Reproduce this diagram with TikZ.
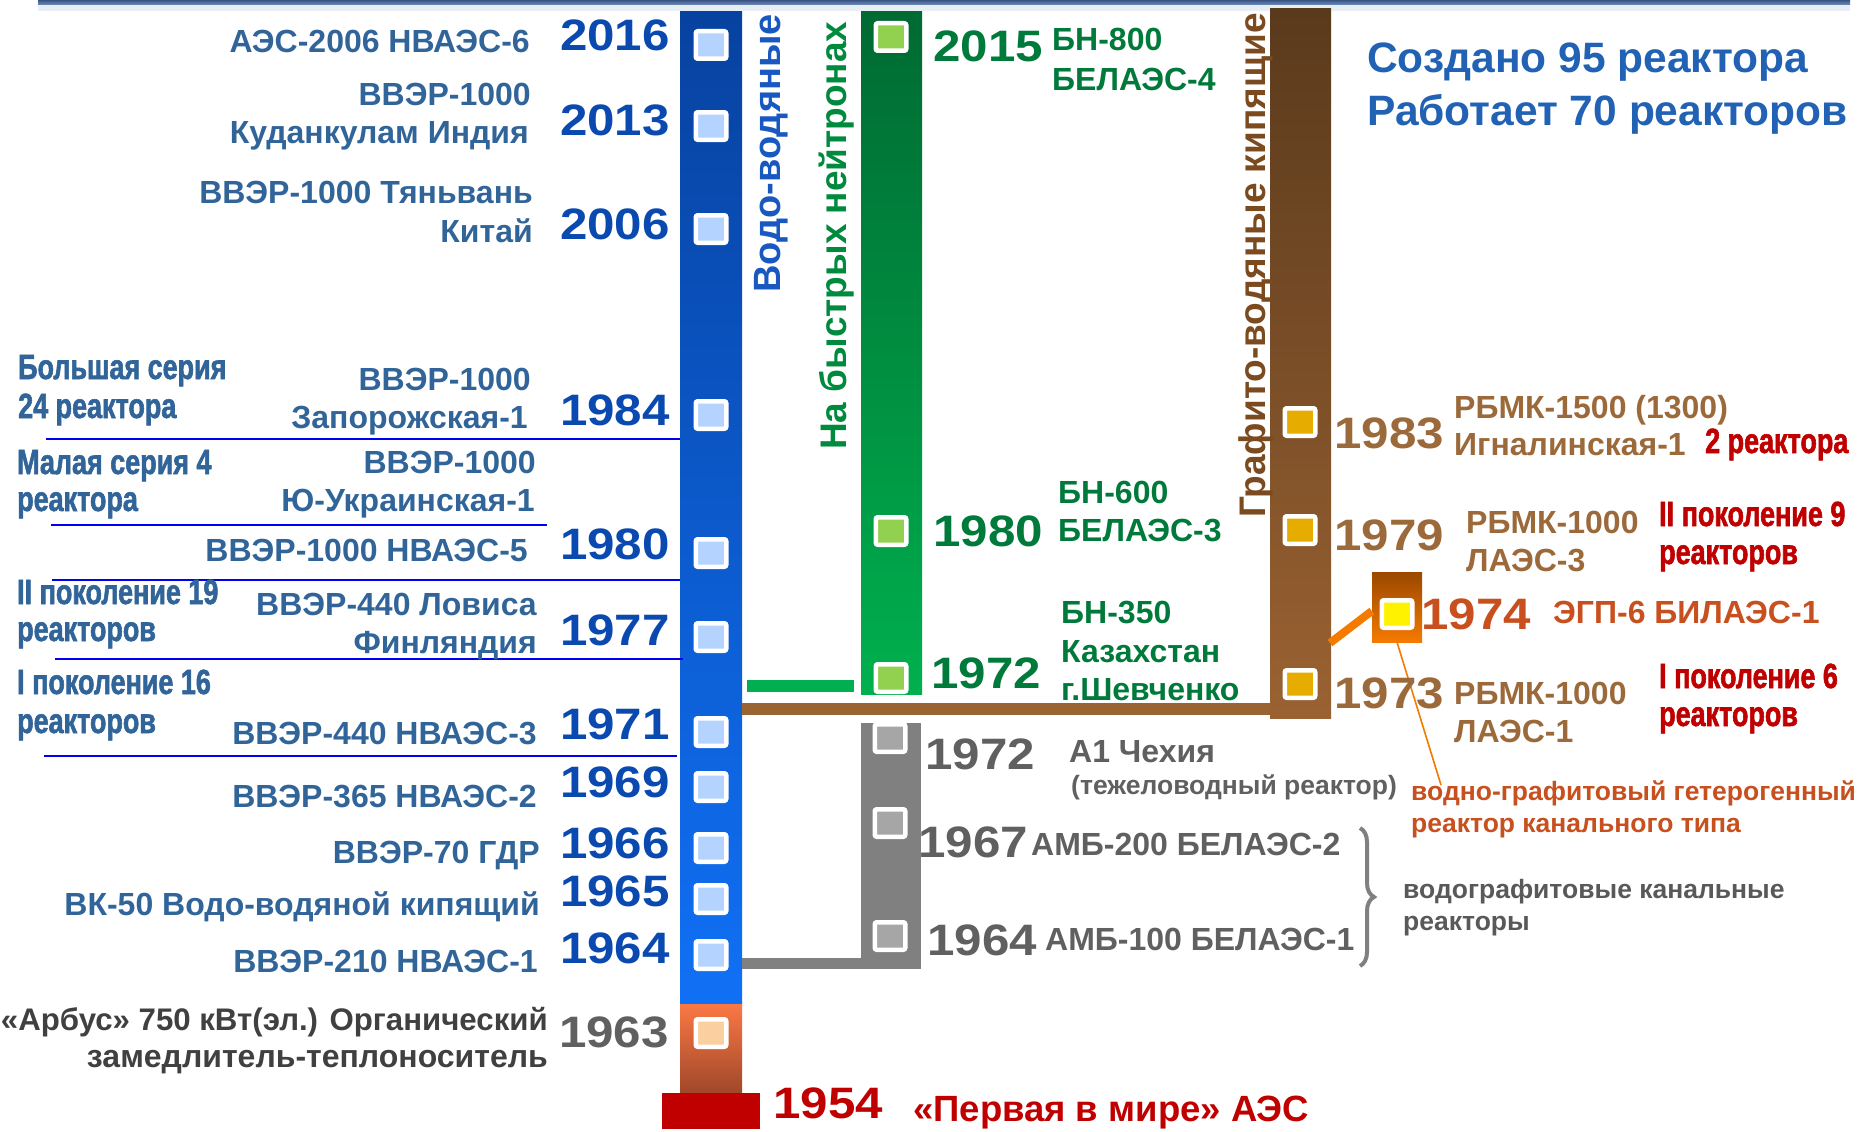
\documentclass[tikz,border=0pt]{standalone}
\usepackage{fontspec}
\setmainfont{Liberation Sans}
\newfontfamily\cf[FakeStretch=0.77,FakeBold=1.6]{Liberation Sans}
\newfontfamily\yf[FakeStretch=1.12]{Liberation Sans}
\usetikzlibrary{decorations.pathreplacing,calc}
\definecolor{lblue}{HTML}{316599}
\definecolor{yblue}{HTML}{0A4AB0}
\definecolor{hblue}{HTML}{2262B5}
\definecolor{rblue}{HTML}{1858C0}
\definecolor{gtxt}{HTML}{007A3A}
\definecolor{rgreen}{HTML}{008A3E}
\definecolor{btxt}{HTML}{9C6A3A}
\definecolor{rbrown}{HTML}{7B4A1E}
\definecolor{grtxt}{HTML}{606060}
\definecolor{dgray}{HTML}{404040}
\definecolor{redt}{HTML}{C00000}
\definecolor{orat}{HTML}{C8501E}
\definecolor{sepl}{HTML}{0000EE}
\definecolor{mkblue}{HTML}{B4D4FF}
\definecolor{mkgreen}{HTML}{92D050}
\definecolor{mkgray}{HTML}{A6A6A6}
\definecolor{mkgold}{HTML}{E6AC00}
\definecolor{mkpeach}{HTML}{FBCFA0}
\definecolor{orline}{HTML}{F57A00}
\definecolor{shadow}{HTML}{E8EEF5}
\definecolor{bartop}{HTML}{3A5585}
\definecolor{barbot}{HTML}{7090BC}
\newcommand\fsz[1]{\fontsize{#1}{#1}\selectfont}
\begin{document}
\begin{tikzpicture}[x=1pt,y=-1pt,
  yr/.style={font={\yf\bfseries\fsz{44}}, inner sep=0},
  lab/.style={font={\bfseries\fsz{32}}, inner sep=0, text=lblue},
  clab/.style={font={\cf\bfseries\fsz{35}}, inner sep=0},
  sml/.style={font={\bfseries\fsz{26.5}}, inner sep=0},
  rot/.style={font={\bfseries\fsz{38}}, inner sep=0, rotate=90, anchor=base west},
  col/.style={draw=none, inner sep=0, minimum width=#1},
  mk/.style={draw=white, line width=4.5pt, minimum width=30.5pt, minimum height=27.5pt, rounded corners=2pt, inner sep=0},
  sep/.style={draw=sepl, line width=2pt},
]
\useasboundingbox (0,0) rectangle (1864,1132);
\fill[white] (0,0) rectangle (1864,1132);
% top bar
\fill[shadow] (38,5) rectangle (1850,11);
\shade[top color=bartop, bottom color=barbot] (38,0) rectangle (1850,5);

% columns
\node[col=62pt, minimum height=992pt, top color={rgb,255:red,7;green,66;blue,160}, bottom color={rgb,255:red,16;green,112;blue,245}] (bluecol) at (711,508) {};
\node[col=62pt, minimum height=89pt, top color={rgb,255:red,250;green,120;blue,68}, bottom color={rgb,255:red,160;green,72;blue,42}] (arbcol) at (711,1048.5) {};
\node[col=98pt, minimum height=36pt, fill=redt] (redbox) at (711,1111) {};
\node[col=61pt, minimum height=682pt, top color={rgb,255:red,0;green,106;blue,50}, bottom color={rgb,255:red,0;green,176;blue,78}] (greencol) at (891.5,353) {};
\node[col=60pt, minimum height=246pt, fill=black!50] (graycol) at (891,846) {};
\node[col=61pt, minimum height=709pt, top color={rgb,255:red,90;green,58;blue,28}, bottom color={rgb,255:red,154;green,98;blue,50}] (browncol) at (1300.5,363.5) {};
\node[col=50pt, minimum height=70pt, top color={rgb,255:red,154;green,72;blue,0}, bottom color={rgb,255:red,245;green,122;blue,0}] (oracol) at (1397,607) {};

% connecting bars
\coordinate (yg) at (0,686);
\coordinate (yb) at (0,709);
\coordinate (ygr) at (0,963.5);
\draw[line width=12pt, draw={rgb,255:red,0;green,176;blue,80}, shorten <=5pt, shorten >=7pt] (bluecol.east |- yg) -- (greencol.west |- yg);
\draw[line width=12pt, draw={rgb,255:red,154;green,100;blue,50}] (bluecol.east |- yb) -- (browncol.west |- yb);
\draw[line width=11pt, draw=black!50] (bluecol.east |- ygr) -- (graycol.west |- ygr);
\coordinate (oa) at (1330,643);
\draw[line width=8pt, draw=orline] (oa) -- ($(oracol.west)+(0,4)$);
\coordinate (ob) at (1441,785);
\draw[line width=1.6pt, draw=orline] (oracol.south) -- (ob);

% separator lines
\draw[sep] (46,439) -- (680,439);
\draw[sep] (51,525) -- (547,525);
\draw[sep] (52,580) -- (680,580);
\draw[sep] (55,659) -- (683,659);
\draw[sep] (44,756) -- (677,756);

% markers
\foreach \n/\y in {2016/45,2013/126,2006/229,1984/415,1980/553,1977/637,1971/732,1969/787,1966/848,1965/899,1964/955}
  \node[mk, fill=mkblue] (b\n) at (711,\y) {};
\node[mk, fill=mkpeach] (b1963) at (711,1033) {};
\foreach \n/\y in {2015/37,1980/531,1972/678}
  \node[mk, fill=mkgreen] (g\n) at (891,\y) {};
\foreach \n/\y in {1972/738,1967/823,1964/936}
  \node[mk, fill=mkgray] (s\n) at (890,\y) {};
\foreach \n/\y in {1983/422,1979/530,1973/684}
  \node[mk, fill=mkgold] (r\n) at (1300,\y) {};
\node[mk, fill=yellow] (o1974) at (1397,614) {};

% blue years
\foreach \n/\y in {2016/51,2013/135,2006/239,1984/425,1980/559,1977/645,1971/739,1969/797,1966/858,1965/906,1964/963}
  \node[yr, text=yblue, anchor=base east] (y\n) at (670,\y) {\n};
\node[yr, text=grtxt, anchor=base east] (y1963) at (669,1047) {1963};

% left labels
\node[lab, anchor=base east] (l1) at (530,53) {АЭС-2006 НВАЭС-6};
\node[lab, anchor=base east] (l2) at (531,106) {ВВЭР-1000};
\node[lab, anchor=base east] (l3) at (529,143) {Куданкулам Индия};
\node[lab, anchor=base east] (l4) at (533,203) {ВВЭР-1000 Тяньвань};
\node[lab, anchor=base east] (l5) at (533,242) {Китай};
\node[lab, anchor=base east] (l6) at (531,390) {ВВЭР-1000};
\node[lab, anchor=base east] (l7) at (528,428) {Запорожская-1};
\node[lab, anchor=base east] (l8) at (536,473) {ВВЭР-1000};
\node[lab, anchor=base east] (l9) at (535,511) {Ю-Украинская-1};
\node[lab, anchor=base east] (l10) at (528,561) {ВВЭР-1000 НВАЭС-5};
\node[lab, anchor=base east] (l11) at (537,615) {ВВЭР-440 Ловиса};
\node[lab, anchor=base east] (l12) at (537,653) {Финляндия};
\node[lab, anchor=base east] (l13) at (537,744) {ВВЭР-440 НВАЭС-3};
\node[lab, anchor=base east] (l14) at (537,807) {ВВЭР-365 НВАЭС-2};
\node[lab, anchor=base east] (l15) at (540,863) {ВВЭР-70 ГДР};
\node[lab, anchor=base east] (l16) at (540,915) {ВК-50 Водо-водяной кипящий};
\node[lab, anchor=base east] (l17) at (538,972) {ВВЭР-210 НВАЭС-1};
\node[lab, text=dgray, font={\bfseries\fsz{31.2}}, anchor=base east] (l18) at (548,1030) {«Арбус» 750 кВт(эл.) Органический};
\node[lab, text=dgray, anchor=base east] (l19) at (548,1067) {замедлитель-теплоноситель};

% condensed series labels
\node[clab, text=lblue, anchor=base west] (c1) at (18,379) {Большая серия};
\node[clab, text=lblue, anchor=base west] (c2) at (18,418) {24 реактора};
\node[clab, text=lblue, anchor=base west] (c3) at (17,474) {Малая серия 4};
\node[clab, text=lblue, anchor=base west] (c4) at (17,511) {реактора};
\node[clab, text=lblue, anchor=base west] (c5) at (17,604) {II поколение 19};
\node[clab, text=lblue, anchor=base west] (c6) at (17,641) {реакторов};
\node[clab, text=lblue, anchor=base west] (c7) at (17,694) {I поколение 16};
\node[clab, text=lblue, anchor=base west] (c8) at (17,733) {реакторов};
\node[clab, text=redt, anchor=base west] (c9) at (1705,453) {2 реактора};
\node[clab, text=redt, anchor=base west] (c10) at (1659,526) {II поколение 9};
\node[clab, text=redt, anchor=base west] (c11) at (1659,564) {реакторов};
\node[clab, text=redt, anchor=base west] (c12) at (1659,688) {I поколение 6};
\node[clab, text=redt, anchor=base west] (c13) at (1659,726) {реакторов};

% rotated titles
\node[rot, text=rblue] (t1) at (780,293) {Водо-водяные};
\node[rot, text=rgreen, font={\bfseries\fsz{37}}] (t2) at (846,450) {На быстрых нейтронах};
\node[rot, text=rbrown, font={\bfseries\fsz{37}}] (t3) at (1265,518) {Графито-водяные кипящие};

% green
\node[yr, text=gtxt, anchor=base west] (y2015) at (933,62) {2015};
\node[lab, text=gtxt, anchor=base west] (gt1) at (1052,51) {БН-800};
\node[lab, text=gtxt, anchor=base west] (gt2) at (1052,90) {БЕЛАЭС-4};
\node[yr, text=gtxt, anchor=base west] (yg1980) at (933,546) {1980};
\node[lab, text=gtxt, anchor=base west] (gt3) at (1058,503) {БН-600};
\node[lab, text=gtxt, anchor=base west] (gt4) at (1058,541) {БЕЛАЭС-3};
\node[yr, text=gtxt, anchor=base west] (yg1972) at (931,688) {1972};
\node[lab, text=gtxt, anchor=base west] (gt5) at (1061,623) {БН-350};
\node[lab, text=gtxt, anchor=base west] (gt6) at (1061,662) {Казахстан};
\node[lab, text=gtxt, anchor=base west] (gt7) at (1061,700) {г.Шевченко};

% brown
\node[yr, text=btxt, anchor=base west] (yr1983) at (1334,448) {1983};
\node[lab, text=btxt, anchor=base west] (bt1) at (1454,418) {РБМК-1500 (1300)};
\node[lab, text=btxt, anchor=base west] (bt2) at (1454,455) {Игналинская-1};
\node[yr, text=btxt, anchor=base west] (yr1979) at (1334,550) {1979};
\node[lab, text=btxt, anchor=base west] (bt3) at (1466,533) {РБМК-1000};
\node[lab, text=btxt, anchor=base west] (bt4) at (1466,571) {ЛАЭС-3};
\node[yr, text=btxt, anchor=base west] (yr1973) at (1334,708) {1973};
\node[lab, text=btxt, anchor=base west] (bt5) at (1454,704) {РБМК-1000};
\node[lab, text=btxt, anchor=base west] (bt6) at (1454,742) {ЛАЭС-1};

% orange
\node[yr, text=orat, anchor=base west] (yo1974) at (1421,629) {1974};
\node[lab, text=orat, anchor=base west] (ot1) at (1553,623) {ЭГП-6 БИЛАЭС-1};
\node[sml, text=orat, anchor=base west] (ot2) at (1411,800) {водно-графитовый гетерогенный};
\node[sml, text=orat, anchor=base west] (ot3) at (1411,832) {реактор канального типа};

% gray
\node[yr, text=grtxt, anchor=base west] (ys1972) at (925,769) {1972};
\node[lab, text=grtxt, anchor=base west] (st1) at (1069,762) {А1 Чехия};
\node[sml, text=grtxt, anchor=base west] (st2) at (1071,794) {(тежеловодный реактор)};
\node[yr, text=grtxt, anchor=base west] (ys1967) at (918,857) {1967};
\node[lab, text=grtxt, anchor=base west] (st3) at (1031,855) {АМБ-200 БЕЛАЭС-2};
\node[yr, text=grtxt, anchor=base west] (ys1964) at (927,955) {1964};
\node[lab, text=grtxt, anchor=base west] (st4) at (1045,950) {АМБ-100 БЕЛАЭС-1};
\coordinate (br1) at (1360,828);
\coordinate (br2) at (1360,966);
\draw[black!50, line width=4pt, decorate, decoration={brace, amplitude=14pt}] (br1) -- (br2);
\node[sml, text=black!65, anchor=base west] (st5) at (1403,898) {водографитовые канальные};
\node[sml, text=black!65, anchor=base west] (st6) at (1403,930) {реакторы};

% 1954
\node[yr, text=redt, anchor=base west] (y1954) at (773,1118) {1954};
\node[font={\bfseries\fsz{36.5}}, inner sep=0, text=redt, anchor=base west] (first) at (913,1121) {«Первая в мире» АЭС};

% header
\node[font={\bfseries\fsz{42.5}}, inner sep=0, text=hblue, anchor=base west] (h1) at (1367,73) {Создано 95 реактора};
\node[font={\bfseries\fsz{42.5}}, inner sep=0, text=hblue, anchor=base west] (h2) at (1367,125) {Работает 70 реакторов};
\end{tikzpicture}
\end{document}
